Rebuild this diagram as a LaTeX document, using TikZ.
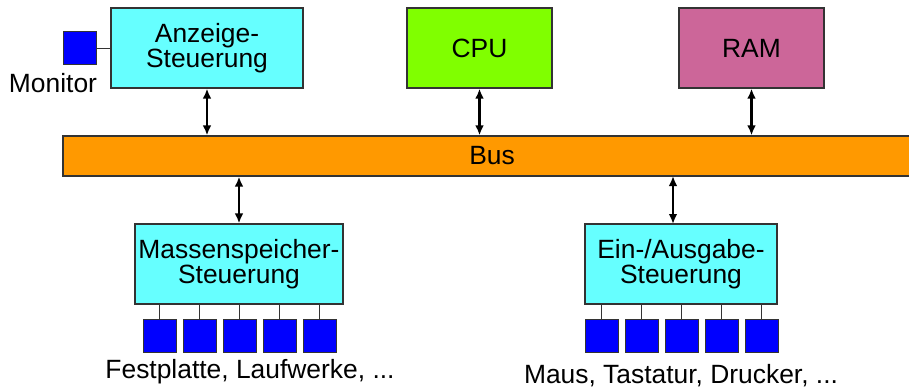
\documentclass[tikz,border=0pt]{standalone}
\usepackage{fontspec}
\setmainfont{Liberation Sans}
\usetikzlibrary{arrows.meta}
\definecolor{ctrlcyan}{HTML}{66FFFF}
\definecolor{cpugreen}{HTML}{80FF00}
\definecolor{rampink}{HTML}{CC6699}
\definecolor{busorange}{HTML}{FF9900}
\definecolor{devblue}{HTML}{0000FF}
\definecolor{edge}{HTML}{333333}
\tikzset{
  unit/.style={draw=edge, line width=0.9pt, minimum height=60pt, inner sep=0pt,
    align=center, font=\fontsize{19.8}{19}\selectfont},
  ctrl/.style={unit, fill=ctrlcyan},
  dev/.style={draw=edge, line width=0.75pt, fill=devblue, minimum size=24.75pt, inner sep=0pt},
  link/.style={draw=edge, line width=0.75pt},
  busarrow/.style={line width=1.8pt, {Latex[length=7.5pt,width=6.5pt]}-{Latex[length=7.5pt,width=6.5pt]}},
  caption/.style={font=\fontsize{19.8}{19}\selectfont, inner sep=0pt}
}
\begin{document}
\begin{tikzpicture}[x=0.75pt, y=-0.75pt]
\useasboundingbox (0,0) rectangle (909,390);
\clip (0,0) rectangle (909,390);

% top row: controllers and memory
\node[ctrl, minimum width=144pt] (anz) at (207,48) {Anzeige-\\Steuerung};
\node[unit, fill=cpugreen, minimum width=108.75pt] (cpu) at (479.5,48) {CPU};
\node[unit, fill=rampink, minimum width=108.75pt] (ram) at (751.5,48) {RAM};

% monitor
\node[dev] (mon) at (79.5,48) {};
\node[caption] (montxt) at (53,83) {Monitor};
\draw[link] (mon.east) -- (anz.west |- mon.east);

% bus
\node[unit, fill=busorange, minimum width=643.5pt, minimum height=30pt] (bus) at (492,156) {Bus};

% lower controllers
\node[ctrl, minimum width=156pt] (mass) at (239,264) {Massenspeicher-\\Steuerung};
\node[ctrl, minimum width=144pt] (io) at (681,264) {Ein-/Ausgabe-\\Steuerung};

% connections to the bus
\draw[busarrow] (anz.south) -- (anz.south |- bus.north);
\draw[busarrow] (cpu.south) -- (cpu.south |- bus.north);
\draw[busarrow] (ram.south) -- (ram.south |- bus.north);
\draw[busarrow] (mass.north) -- (mass.north |- bus.south);
\coordinate (iotop) at (673,224);
\coordinate (iobus) at (673,176);
\draw[busarrow] (iotop) -- (iobus);

% attached devices
\foreach \i in {0,...,4} {
  \node[dev] (md\i) at ({159.5+40*\i},336) {};
  \draw[link] (md\i.north) -- (md\i.north |- mass.south);
  \node[dev] (id\i) at ({601.5+40*\i},336) {};
  \draw[link] (id\i.north) -- (id\i.north |- io.south);
}
\node[caption] (masstxt) at (250,372) {Festplatte, Laufwerke, ...};
\node[caption] (iotxt) at (681,376) {Maus, Tastatur, Drucker, ...};
\end{tikzpicture}
\end{document}
